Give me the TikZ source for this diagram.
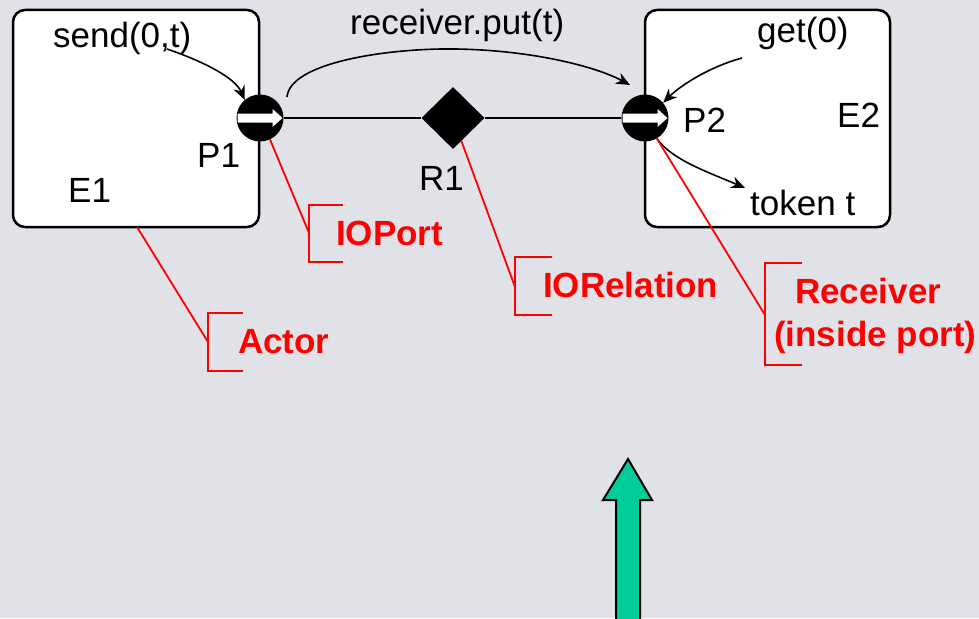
\documentclass[tikz,border=0pt]{standalone}
\usepackage{fontspec}
\setmainfont{Liberation Sans}
\usetikzlibrary{shapes.geometric,arrows.meta,calc}
\definecolor{bg}{RGB}{225,226,232}
\definecolor{callred}{RGB}{255,0,0}
\definecolor{arrowgreen}{RGB}{0,204,153}
\begin{document}
\begin{tikzpicture}[x=1pt,y=-1pt,
  lbl/.style={anchor=base west, inner sep=0pt, font=\fontsize{35}{42}\selectfont},
  redlbl/.style={anchor=base west, inner sep=0pt, font=\fontsize{35}{42}\selectfont\bfseries, text=callred},
  actorbox/.style={draw, line width=2.5pt, fill=white, rounded corners=12pt, inner sep=0pt},
  port/.style={circle, fill=black, minimum size=47pt, inner sep=0pt,
    path picture={\fill[white]
      ([xshift=1pt,yshift=4.5pt]path picture bounding box.west) --
      ([xshift=-11pt,yshift=4.5pt]path picture bounding box.east) --
      ([xshift=-11pt,yshift=9pt]path picture bounding box.east) --
      ([xshift=-1pt]path picture bounding box.east) --
      ([xshift=-11pt,yshift=-9pt]path picture bounding box.east) --
      ([xshift=-11pt,yshift=-4.5pt]path picture bounding box.east) --
      ([xshift=1pt,yshift=-4.5pt]path picture bounding box.west) -- cycle;}},
  relation/.style={diamond, fill=black, minimum width=63pt, minimum height=62pt, inner sep=0pt},
  wire/.style={line width=1.8pt},
  flow/.style={line width=1.6pt, -{Stealth[length=14pt,width=12pt]}},
  callout/.style={draw=callred, line width=1.8pt},
  bigarrow/.style={fill=arrowgreen, draw=black, line width=2pt, line join=miter}
]
\useasboundingbox (0,0) rectangle (979,618);
\fill[bg] (0,0) rectangle (979,618);
\clip (0,0) rectangle (979,618);

% actors
\node[actorbox, minimum width=246pt, minimum height=217pt] (e1) at (136,118.5) {};
\node[actorbox, minimum width=245pt, minimum height=217pt] (e2) at (767.5,118.5) {};

% relation and ports
\node[relation] (r1) at (453,118) {};
\node[port] (p1) at (260,118) {};
\node[port] (p2) at (645,118) {};
\draw[wire] (p1) -- (r1) -- (p2);

% texts
\node[lbl] (tsend) at (53,48) {send(0,t)};
\node[lbl] (tput) at (350,35) {receiver.put(t)};
\node[lbl] (tget) at (757,43) {get(0)};
\node[lbl] (tp1) at (197,167) {P1};
\node[lbl] (te1) at (68,202) {E1};
\node[lbl] (tr1) at (419,190) {R1};
\node[lbl] (tp2) at (683,132) {P2};
\node[lbl] (te2) at (837,127) {E2};
\node[lbl] (ttok) at (750,215) {token t};

% flow arrows
\coordinate (sendstart) at (167,49);
\draw[flow] (sendstart) .. controls (205,62) and (235,78) .. (p1.130);
\coordinate (putstart) at (287,97);
\coordinate (putend) at (630,85);
\draw[flow] (putstart) .. controls (290,62) and (390,48) .. (455,49)
  .. controls (530,50) and (595,66) .. (putend);
\coordinate (getstart) at (742,58);
\draw[flow] (getstart) .. controls (712,66) and (682,84) .. (p2.40);
\coordinate (tokend) at (745,188);
\draw[flow] (p2.-60) .. controls (672,160) and (708,172) .. (tokend);

% callouts
\coordinate (cport) at (309,233);
\draw[callout] (p1.-65) -- (cport);
\draw[callout] (343,205) -- (309,205) -- (309,262) -- (343,262);
\node[redlbl] (lport) at (336,245) {IOPort};

\coordinate (cactorsrc) at (137,227);
\coordinate (cactor) at (208,342);
\draw[callout] (cactorsrc) -- (cactor);
\draw[callout] (243,313) -- (208,313) -- (208,371) -- (243,371);
\node[redlbl] (lactor) at (238,353) {Actor};

\coordinate (crel) at (515,287);
\draw[callout] (r1.-70) -- (crel);
\draw[callout] (552,257) -- (515,257) -- (515,315) -- (552,315);
\node[redlbl] (lrel) at (543,297) {IORelation};

\coordinate (crec) at (765,315);
\draw[callout] (p2.-60) -- (crec);
\draw[callout] (802,263) -- (765,263) -- (765,365) -- (802,365);
\node[redlbl] (lrec1) at (795,303) {Receiver};
\node[redlbl] (lrec2) at (774,346) {(inside port)};

% big green arrow
\draw[bigarrow] (616,640) -- (616,500) -- (603,500) -- (628,459) -- (652,500) -- (640,500) -- (640,640);
\end{tikzpicture}
\end{document}
